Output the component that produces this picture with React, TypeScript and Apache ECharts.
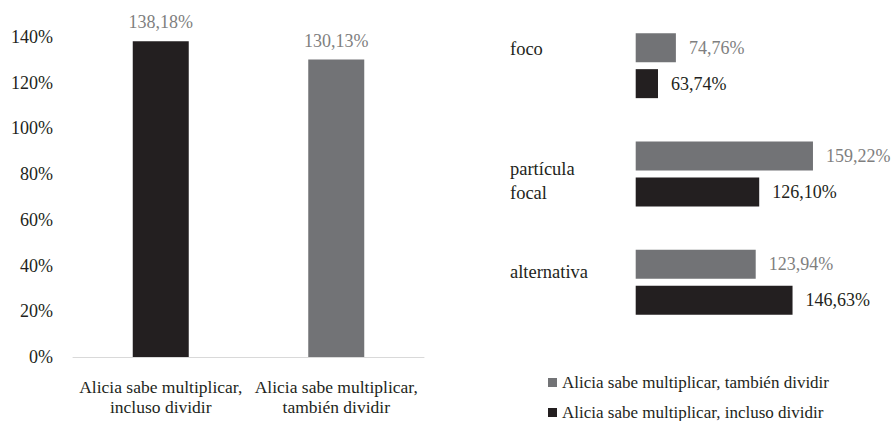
import React, { useEffect, useRef } from "react";
import * as echarts from "echarts";

// Left panel: overall means per sentence type
const leftCategories = [
  "Alicia sabe multiplicar, incluso dividir",
  "Alicia sabe multiplicar, también dividir",
];
const leftValues = [138.18, 130.13];

// Right panel: means per condition
const rightCategories = ["foco", "partícula focal", "alternativa"];
const tambienName = "Alicia sabe multiplicar, también dividir";
const inclusoName = "Alicia sabe multiplicar, incluso dividir";
const tambienValues = [74.76, 159.22, 123.94];
const inclusoValues = [63.74, 126.1, 146.63];

const yTicks = [0, 20, 40, 60, 80, 100, 120, 140];

const BLACK = "#231f20";
const GRAY = "#727376";
const LABEL_GRAY = "#7f7f7f";
const FONT = "Liberation Serif";

const pct = (v: number) => v.toFixed(2).replace(".", ",") + "%";

export default function App() {
  const ref = useRef<HTMLDivElement>(null);

  useEffect(() => {
    if (!ref.current) return;
    const chart = echarts.init(ref.current, undefined, { renderer: "svg" });

    const leftColors = [BLACK, GRAY];
    const legendText = { fontFamily: FONT, fontSize: 17, color: BLACK, lineHeight: 16 };
    const legendBase = {
      orient: "vertical",
      left: 548,
      padding: 0,
      itemWidth: 9,
      itemHeight: 9,
      icon: "rect",
      textStyle: legendText,
    };

    chart.setOption({
      animation: false,
      backgroundColor: "#ffffff",
      textStyle: { fontFamily: FONT, fontSize: 17, color: BLACK },
      legend: [
        { ...legendBase, top: 374, data: [tambienName] },
        { ...legendBase, top: 404, data: [inclusoName] },
      ],
      grid: [
        { left: 73, top: 37, width: 351, height: 320 },
        { left: 635.7, top: 11.5, width: 211, height: 325 },
      ],
      xAxis: [
        {
          gridIndex: 0,
          type: "category",
          data: leftCategories,
          axisLine: { lineStyle: { color: "#d9d9d9", width: 1 } },
          axisTick: { show: false },
          axisLabel: {
            interval: 0,
            margin: 20,
            lineHeight: 20,
            fontFamily: FONT,
            fontSize: 17.5,
            color: BLACK,
            formatter: (v: string) => v.replace(", ", ",\n"),
          },
        },
        {
          gridIndex: 1,
          type: "value",
          min: 50,
          max: 180,
          show: false,
        },
      ],
      yAxis: [
        {
          gridIndex: 0,
          type: "value",
          min: yTicks[0],
          max: yTicks[yTicks.length - 1],
          interval: 20,
          axisLine: { show: false },
          axisTick: { show: false },
          splitLine: { show: false },
          axisLabel: {
            margin: 20,
            padding: [4, 0, 0, 0],
            fontFamily: FONT,
            fontSize: 18,
            color: BLACK,
            formatter: (v: number) => v + "%",
          },
        },
        {
          gridIndex: 1,
          type: "category",
          inverse: true,
          data: rightCategories,
          axisLine: { show: false },
          axisTick: { show: false },
          axisLabel: {
            align: "left",
            margin: 125.7,
            interval: 0,
            fontFamily: FONT,
            fontSize: 18.5,
            color: BLACK,
            formatter: (v: string, i: number) => {
              const lines = v.split(" ").map((w) => `{a|${w}}`).join("\n");
              if (i === 0) return `${lines}\n{g0|}`;
              if (i === 1) return `{g1|}\n${lines}`;
              return `${lines}\n{g2|}`;
            },
            rich: {
              a: { fontFamily: FONT, fontSize: 18.5, color: BLACK, lineHeight: 23.5 },
              g0: { height: 33, lineHeight: 33 },
              g1: { height: 14, lineHeight: 14 },
              g2: { height: 20, lineHeight: 20 },
            },
          },
        },
      ],
      series: [
        {
          name: "media",
          type: "bar",
          xAxisIndex: 0,
          yAxisIndex: 0,
          barWidth: 56,
          data: leftValues.map((v, i) => ({ value: v, itemStyle: { color: leftColors[i] } })),
          label: {
            show: true,
            position: "top",
            distance: 10,
            fontFamily: FONT,
            fontSize: 18,
            color: LABEL_GRAY,
            formatter: (p: any) => pct(p.value),
          },
        },
        {
          name: tambienName,
          type: "bar",
          xAxisIndex: 1,
          yAxisIndex: 1,
          barWidth: 29,
          barGap: "24%",
          itemStyle: { color: GRAY },
          data: tambienValues,
          label: {
            show: true,
            position: "right",
            distance: 13,
            fontFamily: FONT,
            fontSize: 18,
            color: LABEL_GRAY,
            formatter: (p: any) => pct(p.value),
          },
        },
        {
          name: inclusoName,
          type: "bar",
          xAxisIndex: 1,
          yAxisIndex: 1,
          barWidth: 29,
          barGap: "24%",
          itemStyle: { color: BLACK },
          data: inclusoValues,
          label: {
            show: true,
            position: "right",
            distance: 13,
            fontFamily: FONT,
            fontSize: 18,
            color: BLACK,
            formatter: (p: any) => pct(p.value),
          },
        },
      ],
    });

    return () => chart.dispose();
  }, []);

  return (
    <>
      <style>{`.fig svg text { font-family: "Liberation Serif", "Times New Roman", serif !important; }`}</style>
      <div
        ref={ref}
        className="fig"
        style={{ position: "absolute", left: 0, top: 0, width: 895, height: 421 }}
      />
    </>
  );
}
